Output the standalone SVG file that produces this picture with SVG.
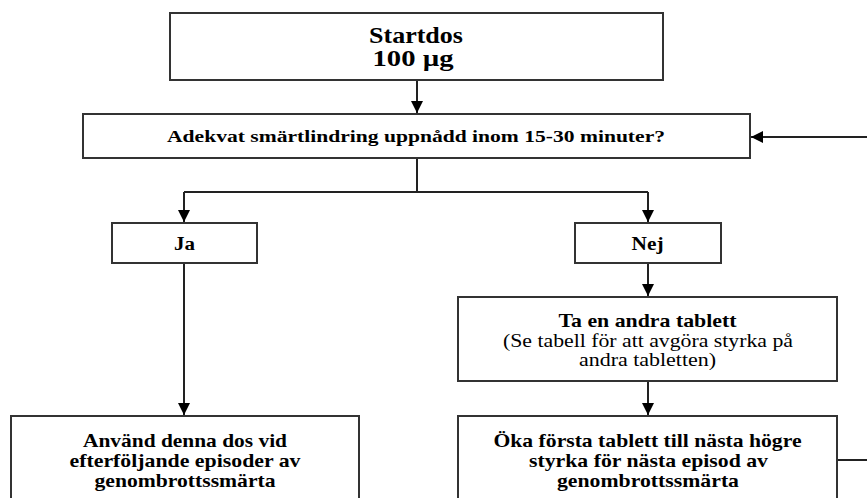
<svg xmlns="http://www.w3.org/2000/svg" width="867" height="498" viewBox="0 0 867 498">
<defs>
<marker id="ah" viewBox="0 0 12 12" refX="12" refY="6" markerWidth="12" markerHeight="12" markerUnits="userSpaceOnUse" orient="auto">
<path d="M0,0 L12,6 L0,12 Z" fill="#000"/>
</marker>
<style>
.box{fill:#fff;stroke:#333;stroke-width:2}
.ln{fill:none;stroke:#222;stroke-width:2}
.t{font-family:"Liberation Serif","Times New Roman",serif;font-weight:bold;fill:#000;text-anchor:middle}
.n{font-weight:normal}
</style>
</defs>
<rect width="867" height="498" fill="#fff"/>
<g id="connectors">
<path class="ln" d="M417,80 V113" marker-end="url(#ah)"/>
<path class="ln" d="M417,158 V192 M184,192 H648"/>
<path class="ln" d="M184,192 V222" marker-end="url(#ah)"/>
<path class="ln" d="M648,192 V222" marker-end="url(#ah)"/>
<path class="ln" d="M184,263 V415" marker-end="url(#ah)"/>
<path class="ln" d="M648,263 V296" marker-end="url(#ah)"/>
<path class="ln" d="M648,381 V415" marker-end="url(#ah)"/>
<path class="ln" d="M837,460 H867"/>
<path class="ln" d="M867,137 H751" marker-end="url(#ah)"/>
</g>
<g id="startdos">
<rect class="box" x="170" y="13" width="493" height="67"/>
<text class="t" x="416" y="43" font-size="22.5" textLength="94" lengthAdjust="spacingAndGlyphs">Startdos</text>
<text class="t" x="413" y="66" font-size="22.5" textLength="81" lengthAdjust="spacingAndGlyphs">100 µg</text>
</g>
<g id="adekvat">
<rect class="box" x="83" y="114" width="667" height="44"/>
<text class="t" x="416" y="142" font-size="17.5" textLength="498" lengthAdjust="spacingAndGlyphs">Adekvat smärtlindring uppnådd inom 15-30 minuter?</text>
</g>
<g id="ja">
<rect class="box" x="112" y="223" width="145" height="40"/>
<text class="t" x="184.5" y="250" font-size="18" textLength="21" lengthAdjust="spacingAndGlyphs">Ja</text>
</g>
<g id="nej">
<rect class="box" x="575" y="223" width="146" height="40"/>
<text class="t" x="647.5" y="250" font-size="18" textLength="32" lengthAdjust="spacingAndGlyphs">Nej</text>
</g>
<g id="anvand">
<rect class="box" x="11" y="416" width="348" height="90"/>
<text class="t" x="185" y="447" font-size="19.5" textLength="204" lengthAdjust="spacingAndGlyphs">Använd denna dos vid</text>
<text class="t" x="185" y="467" font-size="19.5" textLength="231" lengthAdjust="spacingAndGlyphs">efterföljande episoder av</text>
<text class="t" x="185" y="487" font-size="19.5" textLength="181" lengthAdjust="spacingAndGlyphs">genombrottssmärta</text>
</g>
<g id="tablett">
<rect class="box" x="458" y="297" width="379" height="84"/>
<text class="t" x="647.5" y="327" font-size="19.5" textLength="178" lengthAdjust="spacingAndGlyphs">Ta en andra tablett</text>
<text class="t n" x="648" y="347" font-size="19.5" textLength="290" lengthAdjust="spacingAndGlyphs">(Se tabell för att avgöra styrka på</text>
<text class="t n" x="647.5" y="366" font-size="19.5" textLength="137" lengthAdjust="spacingAndGlyphs">andra tabletten)</text>
</g>
<g id="oka">
<rect class="box" x="458" y="416" width="379" height="90"/>
<text class="t" x="647.5" y="447" font-size="19.5" textLength="308" lengthAdjust="spacingAndGlyphs">Öka första tablett till nästa högre</text>
<text class="t" x="648.5" y="467" font-size="19.5" textLength="239" lengthAdjust="spacingAndGlyphs">styrka för nästa episod av</text>
<text class="t" x="648" y="487" font-size="19.5" textLength="182" lengthAdjust="spacingAndGlyphs">genombrottssmärta</text>
</g>
</svg>
